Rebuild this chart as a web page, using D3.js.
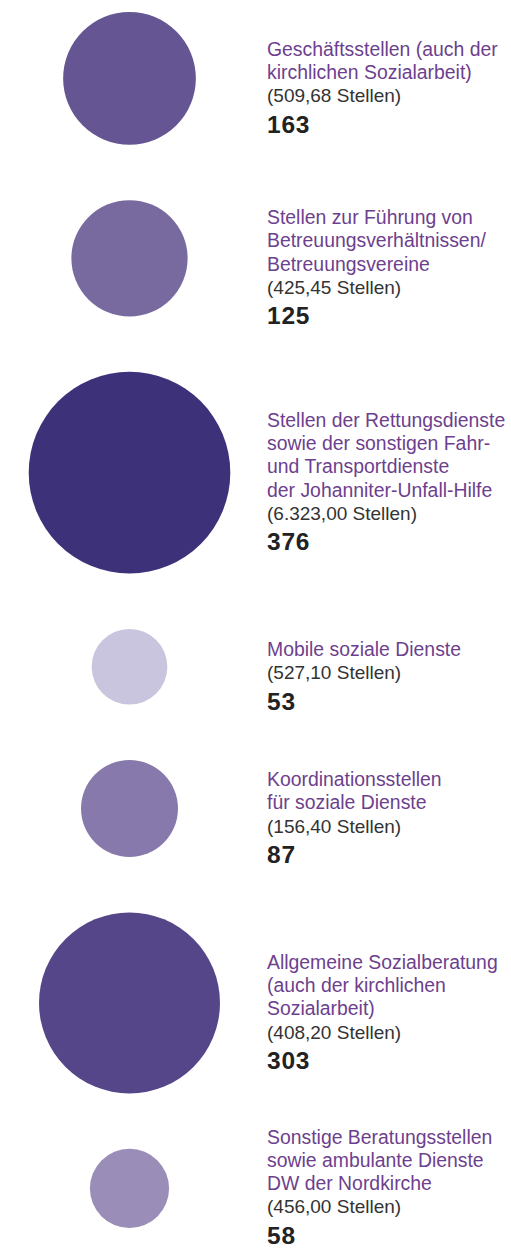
<!DOCTYPE html>
<html>
<head>
<meta charset="utf-8">
<script src="https://cdn.jsdelivr.net/npm/d3@7"></script>
<style>
  html, body { margin: 0; padding: 0; background: #fff; }
  svg { display: block; font-family: "Liberation Sans", Arial, Helvetica, sans-serif; }
</style>
</head>
<body>
<svg id="chart"></svg>
<script>
// Data
const labels = [
  ["Geschäftsstellen (auch der", "kirchlichen Sozialarbeit)"],
  ["Stellen zur Führung von", "Betreuungsverhältnissen/", "Betreuungsvereine"],
  ["Stellen der Rettungsdienste", "sowie der sonstigen Fahr-", "und Transportdienste", "der Johanniter-Unfall-Hilfe"],
  ["Mobile soziale Dienste"],
  ["Koordinationsstellen", "für soziale Dienste"],
  ["Allgemeine Sozialberatung", "(auch der kirchlichen", "Sozialarbeit)"],
  ["Sonstige Beratungsstellen", "sowie ambulante Dienste", "DW der Nordkirche"]
]
const stellen = ["509,68", "425,45", "6.323,00", "527,10", "156,40", "408,20", "456,00"]
const counts = [163, 125, 376, 53, 87, 303, 58]
const colors = ["#655592", "#786a9f", "#3d317a", "#c9c5de", "#8779ab", "#544689", "#9a8db8"]

const width = 511
const height = 1248
const padTop = 12, padBottom = 1228
const cx = 129.5
const textX = 267
const lineH = 23.3
const valueGap = 30.5
const textShift = 16

const svg = d3.select("#chart")
  .attr("width", width)
  .attr("height", height)
  .attr("viewBox", [0, 0, width, height])

// circle area ~ count
const r = d3.scaleSqrt()
  .domain([0, d3.max(counts)])
  .range([0, 100.8])

// stack circles with an even gap between them
const rs = counts.map(d => r(d))
const gap = (padBottom - padTop - 2 * d3.sum(rs)) / (counts.length - 1)
let cursor = padTop
const rows = counts.map((c, i) => {
  const cy = cursor + rs[i]
  cursor = cy + rs[i] + gap
  const blockH = labels[i].length * lineH + valueGap
  // text block sits a bit below the circle centre, but stays on the page
  const ty = Math.min(cy + textShift - blockH / 2, height - 4 - blockH)
  return { count: c, label: labels[i], stellen: stellen[i], color: colors[i], r: rs[i], cy, ty }
})

const g = svg.selectAll("g.row")
  .data(rows)
  .join("g")
  .attr("class", "row")

g.append("circle")
  .attr("cx", cx)
  .attr("cy", d => d.cy)
  .attr("r", d => d.r)
  .attr("fill", d => d.color)

const txt = g.append("g")
  .attr("transform", d => `translate(${textX},${d.ty})`)

txt.selectAll("text.lbl")
  .data(d => d.label)
  .join("text")
  .attr("class", "lbl")
  .attr("y", (d, i) => i * lineH)
  .attr("fill", "#6d3f8e")
  .style("font-size", "19.4px")
  .text(d => d)

txt.append("text")
  .attr("y", d => d.label.length * lineH)
  .attr("fill", "#333")
  .style("font-size", "19px")
  .text(d => `(${d.stellen} Stellen)`)

txt.append("text")
  .attr("y", d => d.label.length * lineH + valueGap)
  .attr("fill", "#222")
  .style("font-size", "24.5px")
  .style("font-weight", "bold")
  .style("letter-spacing", "0.8px")
  .text(d => d.count)
</script>
</body>
</html>
